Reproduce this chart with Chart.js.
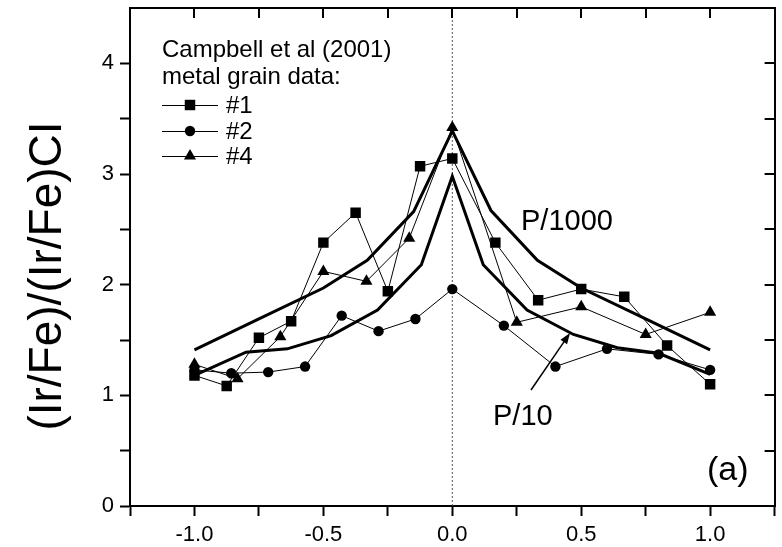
<!DOCTYPE html>
<html>
<head>
<meta charset="utf-8">
<script src="https://cdn.jsdelivr.net/npm/chart.js@4.4.0/dist/chart.umd.min.js"></script>
<style>
html, body { margin: 0; padding: 0; background: #fff; }
</style>
</head>
<body>
<canvas id="chart" width="782" height="547"></canvas>
<script>
// Campbell et al (2001) metal grain data
const grain1X = [-1.0, -0.875, -0.75, -0.625, -0.5, -0.375, -0.25, -0.125, 0.0, 0.167, 0.333, 0.5, 0.667, 0.833, 1.0];
const grain1Y = [1.18, 1.085, 1.52, 1.67, 2.38, 2.65, 1.94, 3.07, 3.14, 2.38, 1.86, 1.96, 1.89, 1.45, 1.10];

const grain2X = [-1.0, -0.857, -0.714, -0.571, -0.429, -0.286, -0.143, 0.0, 0.2, 0.4, 0.6, 0.8, 1.0];
const grain2Y = [1.23, 1.20, 1.21, 1.26, 1.72, 1.58, 1.69, 1.96, 1.63, 1.26, 1.42, 1.37, 1.23];

const grain4X = [-1.0, -0.833, -0.667, -0.5, -0.333, -0.167, 0.0, 0.25, 0.5, 0.75, 1.0];
const grain4Y = [1.28, 1.15, 1.53, 2.12, 2.03, 2.42, 3.42, 1.66, 1.80, 1.55, 1.75];

// model curves
const p1000X = [-1.0, -0.75, -0.5, -0.33, -0.15, 0.0, 0.15, 0.33, 0.5, 0.75, 1.0];
const p1000Y = [1.41, 1.69, 1.97, 2.22, 2.66, 3.39, 2.67, 2.22, 1.97, 1.69, 1.41];

const p10X = [-1.0, -0.8, -0.64, -0.47, -0.29, -0.12, 0.0, 0.12, 0.29, 0.47, 0.64, 0.8, 1.0];
const p10Y = [1.18, 1.39, 1.42, 1.54, 1.77, 2.18, 2.98, 2.18, 1.77, 1.55, 1.43, 1.38, 1.19];

// dotted line at x = 0
const zeroX = [0, 0];
const zeroY = [0, 4.5];

const FONT = "'Liberation Sans', Arial, sans-serif";

function pts(xs, ys) {
    return xs.map(function(x, i) { return { x: x, y: ys[i] }; });
}

function marker(ctx, style, r, x, y) {
    ctx.beginPath();
    if (style === 'rect') {
        const s = r / Math.SQRT2;
        ctx.rect(x - s, y - s, 2 * s, 2 * s);
    } else if (style === 'triangle') {
        ctx.moveTo(x, y - r);
        ctx.lineTo(x + r * 0.866, y + r / 2);
        ctx.lineTo(x - r * 0.866, y + r / 2);
        ctx.closePath();
    } else {
        ctx.arc(x, y, r, 0, Math.PI * 2);
    }
    ctx.fill();
}

// no extra room for half labels, the box sizes are fixed
function fixBox(w, h) {
    return function(s) {
        if (w !== null) s.width = w;
        if (h !== null) s.height = h;
        s.paddingTop = 0;
        s.paddingBottom = 0;
        s.paddingLeft = 0;
        s.paddingRight = 0;
    };
}

// inward ticks on top/right, the legend, labels and arrow
const decorations = {
    id: 'decorations',
    afterDraw(chart) {
        const ctx = chart.ctx;
        const area = chart.chartArea;
        const xs = chart.scales.x;
        const ys = chart.scales.y;
        ctx.save();
        ctx.strokeStyle = '#000';
        ctx.fillStyle = '#000';
        ctx.lineWidth = 2;

        ctx.beginPath();
        xs.ticks.forEach(function(t) {
            if (Math.abs(t.value) > 1.01) return;
            const px = Math.round(xs.getPixelForValue(t.value));
            ctx.moveTo(px, area.top);
            ctx.lineTo(px, area.top + 10);
        });
        ys.ticks.forEach(function(t) {
            if (t.value <= 0 || t.value >= 4.5) return;
            const py = Math.round(ys.getPixelForValue(t.value));
            ctx.moveTo(area.right, py);
            ctx.lineTo(area.right - 10, py);
        });
        ctx.stroke();

        // y axis title
        ctx.save();
        ctx.translate(48, 276);
        ctx.rotate(-Math.PI / 2);
        ctx.font = '46px ' + FONT;
        ctx.textAlign = 'center';
        ctx.textBaseline = 'middle';
        ctx.fillText('(Ir/Fe)/(Ir/Fe)CI', 0, 0);
        ctx.restore();

        // legend
        ctx.font = '24px ' + FONT;
        ctx.textAlign = 'left';
        ctx.textBaseline = 'alphabetic';
        ctx.fillText('Campbell et al (2001)', 162, 57);
        ctx.fillText('metal grain data:', 162, 84);
        const rows = [105, 131, 156];
        chart.data.datasets.slice(0, 3).forEach(function(ds, i) {
            const y = rows[i];
            ctx.lineWidth = 1;
            ctx.beginPath();
            ctx.moveTo(162, y + 0.5);
            ctx.lineTo(218, y + 0.5);
            ctx.stroke();
            marker(ctx, ds.pointStyle, ds.pointRadius, 190, y);
            ctx.textBaseline = 'middle';
            ctx.fillText(ds.label, 226, y + 1);
        });

        // curve labels
        ctx.textBaseline = 'alphabetic';
        ctx.font = '29px ' + FONT;
        ctx.fillText('P/1000', 521, 230);
        ctx.fillText('P/10', 493, 425);
        ctx.font = '34px ' + FONT;
        ctx.fillText('(a)', 707, 480);

        // arrow to the P/10 curve
        const ax = 531, ay = 390, bx = 570, by = 333;
        const ang = Math.atan2(by - ay, bx - ax);
        ctx.lineWidth = 1.5;
        ctx.beginPath();
        ctx.moveTo(ax, ay);
        ctx.lineTo(bx - 8 * Math.cos(ang), by - 8 * Math.sin(ang));
        ctx.stroke();
        ctx.beginPath();
        ctx.moveTo(bx, by);
        ctx.lineTo(bx - 11 * Math.cos(ang) + 4 * Math.sin(ang), by - 11 * Math.sin(ang) - 4 * Math.cos(ang));
        ctx.lineTo(bx - 11 * Math.cos(ang) - 4 * Math.sin(ang), by - 11 * Math.sin(ang) + 4 * Math.cos(ang));
        ctx.closePath();
        ctx.fill();

        ctx.restore();
    }
};

const ctx = document.getElementById('chart').getContext('2d');

const chart = new Chart(ctx, {
    type: 'line',
    data: {
        datasets: [{
            label: '#1',
            data: pts(grain1X, grain1Y),
            borderColor: '#000',
            borderWidth: 1,
            pointStyle: 'rect',
            pointRadius: 7.4,
            pointBackgroundColor: '#000',
            pointBorderWidth: 0
        }, {
            label: '#2',
            data: pts(grain2X, grain2Y),
            borderColor: '#000',
            borderWidth: 1,
            pointStyle: 'circle',
            pointRadius: 5.2,
            pointBackgroundColor: '#000',
            pointBorderWidth: 0
        }, {
            label: '#4',
            data: pts(grain4X, grain4Y),
            borderColor: '#000',
            borderWidth: 1,
            pointStyle: 'triangle',
            pointRadius: 7,
            pointBackgroundColor: '#000',
            pointBorderWidth: 0
        }, {
            label: 'P/1000',
            data: pts(p1000X, p1000Y),
            borderColor: '#000',
            borderWidth: 3,
            pointRadius: 0
        }, {
            label: 'P/10',
            data: pts(p10X, p10Y),
            borderColor: '#000',
            borderWidth: 3,
            pointRadius: 0
        }, {
            label: 'zero',
            data: pts(zeroX, zeroY),
            borderColor: '#555',
            borderWidth: 1,
            borderDash: [2, 2],
            pointRadius: 0
        }]
    },
    options: {
        responsive: false,
        animation: false,
        devicePixelRatio: 1,
        layout: { padding: 0 },
        plugins: {
            legend: { display: false },
            tooltip: { enabled: false }
        },
        scales: {
            x: {
                type: 'linear',
                position: 'bottom',
                min: -1.25,
                max: 1.25,
                ticks: {
                    stepSize: 0.25,
                    autoSkip: false,
                    maxRotation: 0,
                    padding: 6,
                    color: '#000',
                    font: { family: FONT, size: 22 },
                    callback: function(v) {
                        const half = Math.abs(v * 2 - Math.round(v * 2)) < 1e-6;
                        return (half && Math.abs(v) <= 1.001) ? v.toFixed(1) : '';
                    }
                },
                grid: { drawOnChartArea: false, tickLength: 10, tickWidth: 2, tickColor: '#000' },
                border: { color: '#000', width: 2 },
                afterFit: fixBox(null, 41)
            },
            x2: {
                type: 'linear',
                position: 'top',
                min: -1.25,
                max: 1.25,
                ticks: { display: false },
                grid: { display: false },
                border: { color: '#000', width: 2 },
                afterFit: fixBox(null, 8)
            },
            y: {
                type: 'linear',
                position: 'left',
                min: 0,
                max: 4.5,
                ticks: {
                    stepSize: 0.5,
                    autoSkip: false,
                    padding: 6,
                    color: '#000',
                    font: { family: FONT, size: 22 },
                    callback: function(v) {
                        return Number.isInteger(v) ? String(v) : '';
                    }
                },
                grid: {
                    drawOnChartArea: false,
                    tickLength: 10,
                    tickWidth: 2,
                    tickColor: function(c) {
                        return (c.tick && c.tick.value >= 4.5) ? 'rgba(0,0,0,0)' : '#000';
                    }
                },
                border: { color: '#000', width: 2 },
                afterFit: fixBox(130, null)
            },
            y2: {
                type: 'linear',
                position: 'right',
                min: 0,
                max: 4.5,
                ticks: { display: false },
                grid: { display: false },
                border: { color: '#000', width: 2 },
                afterFit: fixBox(6, null)
            }
        }
    },
    plugins: [decorations]
});
</script>
</body>
</html>
